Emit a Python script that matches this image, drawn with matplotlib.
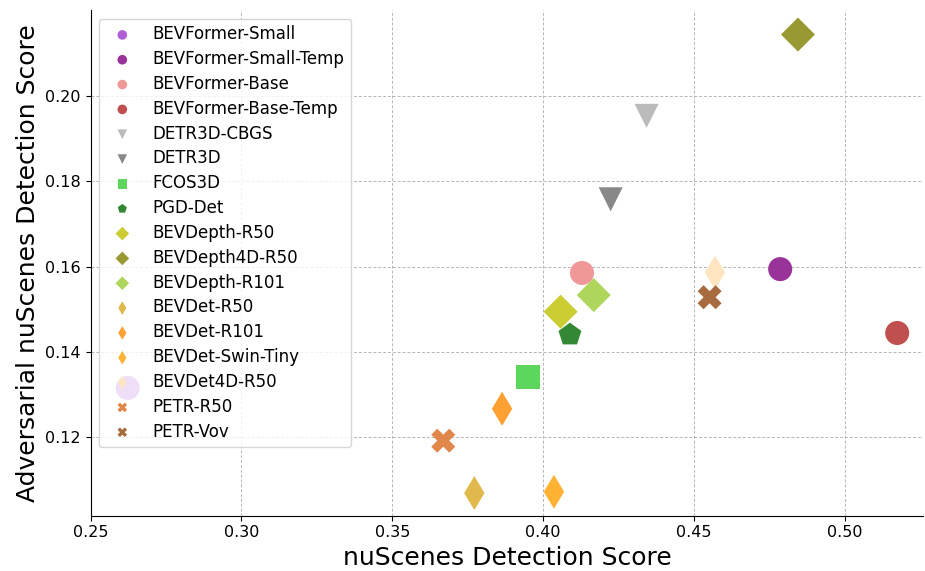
import matplotlib
matplotlib.use("Agg")
import matplotlib.pyplot as plt

models = ["BEVFormer-Small", "BEVFormer-Small-Temp", "BEVFormer-Base", "BEVFormer-Base-Temp",
          "DETR3D-CBGS", "DETR3D", "FCOS3D", "PGD-Det", "BEVDepth-R50", "BEVDepth4D-R50",
          "BEVDepth-R101", "BEVDet-R50", "BEVDet-R101", "BEVDet-Swin-Tiny", "BEVDet4D-R50",
          "PETR-R50", "PETR-Vov"]
nds = [0.2623, 0.4786, 0.4129, 0.5174, 0.4343, 0.4224, 0.3950, 0.4089, 0.4058, 0.4845,
       0.4168, 0.3772, 0.3864, 0.4036, 0.4570, 0.3669, 0.4552]
adv_nds = [0.1315, 0.1594, 0.1585, 0.1444, 0.1954, 0.1758, 0.1341, 0.1440, 0.1494, 0.2145,
           0.1533, 0.1068, 0.1266, 0.1071, 0.1586, 0.1191, 0.1528]
markers = ["o", "o", "o", "o", "v", "v", "s", "p", "D", "D", "D", "d", "d", "d", "d", "X", "X"]
colors = ["#AF5FD5", "#993399", "#F09898", "#C05050", "#BBBBBB", "#888888", "#5CD65C", "#338833",
          "#CCCC33", "#999933", "#AED65C", "#E0B84C", "#FFA033", "#FFB233", "#FFE6C0",
          "#E0874C", "#A86B40"]

fig, ax = plt.subplots(figsize=(9.25, 5.71), dpi=100)
for m, x, y, mk, c in zip(models, nds, adv_nds, markers, colors):
    ax.scatter(x, y, s=300, marker=mk, color=c, label=m, edgecolors="none", zorder=3)

ax.set_xlim(0.25, 0.526)
ax.set_ylim(0.1015, 0.2202)
ax.set_xticks([0.25, 0.30, 0.35, 0.40, 0.45, 0.50])
ax.set_yticks([0.12, 0.14, 0.16, 0.18, 0.20])
ax.tick_params(labelsize=11.5)
ax.grid(True, linestyle=(0, (3, 2)), color="#b5b5b5", linewidth=0.7)
ax.set_axisbelow(True)
ax.spines["top"].set_visible(False)
ax.spines["right"].set_visible(False)
ax.set_xlabel("nuScenes Detection Score", fontsize=18)
ax.set_ylabel("Adversarial nuScenes Detection Score", fontsize=18)
ax.legend(loc="upper left", fontsize=12, markerscale=0.4, framealpha=0.8,
          borderaxespad=0.5, handletextpad=0.8, labelspacing=0.41)
fig.subplots_adjust(left=0.098, right=0.998, bottom=0.097, top=0.982)
fig.savefig("out.png", dpi=100)
